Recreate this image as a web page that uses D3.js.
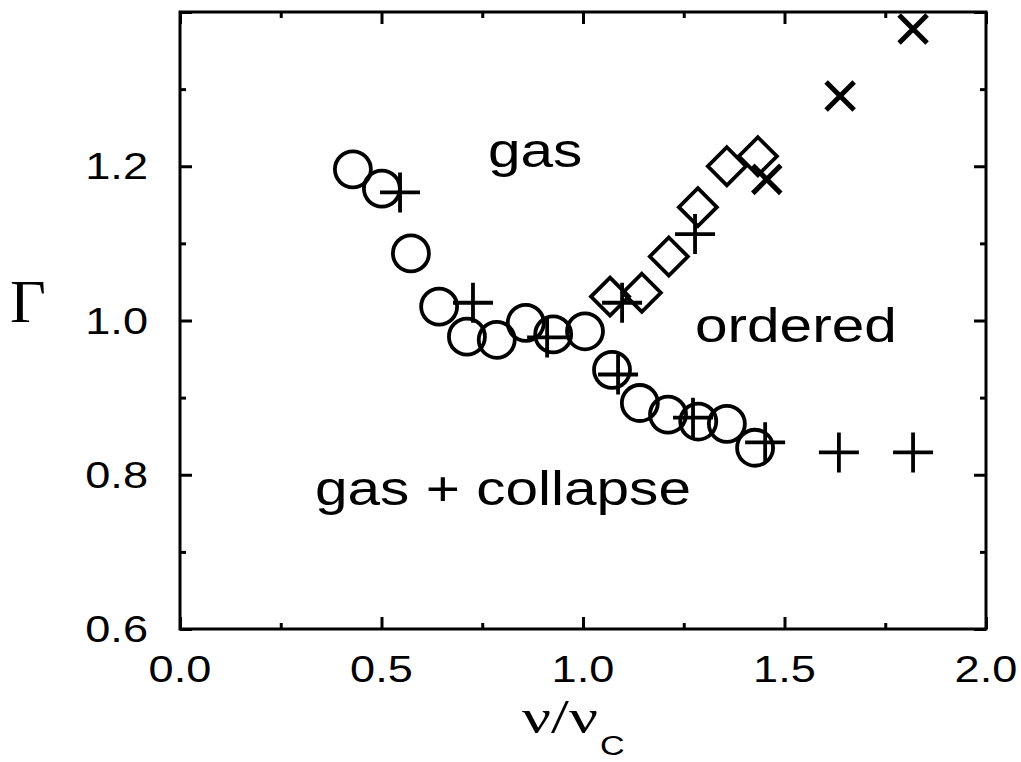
<!DOCTYPE html>
<html><head><meta charset="utf-8">
<script src="https://cdn.jsdelivr.net/npm/d3@7"></script>
<style>body{margin:0;background:#fff}svg{display:block}</style>
</head><body>
<svg id="c" width="1021" height="762"></svg>
<script>
// ---- data ----
const circleX = [0.429,0.501,0.573,0.643,0.712,0.786,0.858,0.926,1.005,1.072,1.141,1.211,1.286,1.357,1.427];
const circleY = [1.196,1.171,1.087,1.018,0.979,0.975,0.997,0.982,0.986,0.936,0.893,0.878,0.869,0.866,0.835];
const plusX = [0.546,0.727,0.911,1.097,1.087,1.278,1.273,1.452,1.635,1.819];
const plusY = [1.166,1.023,0.978,1.023,0.930,1.112,0.874,0.842,0.829,0.829];
const diamondX = [1.067,1.146,1.213,1.285,1.357,1.434];
const diamondY = [1.031,1.036,1.083,1.147,1.200,1.213];
const crossX = [1.456,1.638,1.819];
const crossY = [1.183,1.291,1.378];
const xTickLabels = ["0.0","0.5","1.0","1.5","2.0"];
const yTickLabels = ["0.6","0.8","1.0","1.2"];
const regionLabels = ["gas","ordered","gas + collapse"];

// ---- layout ----
const svg = d3.select("#c");
const L=180, R=986, T=12, B=629;
const x = d3.scaleLinear().domain([0,2]).range([L,R]);
const y = d3.scaleLinear().domain([0.6,1.4]).range([B,T]);
const SX = 1.22; // horizontal stretch of text

function ticks(axisFn, vals, size, tr){
  const g = svg.append("g").attr("transform",tr)
    .call(axisFn.tickValues(vals).tickSize(size).tickFormat(""));
  g.select(".domain").remove();
  g.selectAll(".tick line").attr("stroke","#000").attr("stroke-width",3);
}
const majX=[0,0.5,1,1.5,2], minX=[0.25,0.75,1.25,1.75];
const majY=[0.6,0.8,1.0,1.2,1.4], minY=[0.7,0.9,1.1,1.3];
ticks(d3.axisBottom(x), majX, -12, `translate(0,${B})`);
ticks(d3.axisBottom(x), minX, -6, `translate(0,${B})`);
ticks(d3.axisTop(x), majX, -12, `translate(0,${T})`);
ticks(d3.axisTop(x), minX, -6, `translate(0,${T})`);
ticks(d3.axisLeft(y), majY, -12, `translate(${L},0)`);
ticks(d3.axisLeft(y), minY, -6, `translate(${L},0)`);
ticks(d3.axisRight(y), majY, -12, `translate(${R},0)`);
ticks(d3.axisRight(y), minY, -6, `translate(${R},0)`);
svg.append("rect").attr("x",L).attr("y",T).attr("width",R-L).attr("height",B-T)
  .attr("fill","none").attr("stroke","#000").attr("stroke-width",3);

function stext(px,py,str,size,anchor,family){
  const g = svg.append("g").attr("transform",`translate(${px},${py}) scale(${SX},1)`);
  return g.append("text").text(str).attr("font-size",size)
    .attr("font-family",family||"'Liberation Sans', Arial, sans-serif")
    .attr("text-anchor",anchor||"start").attr("fill","#000");
}
xTickLabels.forEach(t=>stext(x(+t),682,t,37,"middle"));
yTickLabels.forEach(t=>stext(148,y(+t)+13,t,37,"end"));

// axis titles
svg.append("text").attr("x",10).attr("y",322).text("Γ")
  .attr("font-family","'Liberation Serif','Times New Roman',serif").attr("font-size",62);
svg.append("text").attr("x",522).attr("y",733).text("ν/ν")
  .attr("font-family","'Liberation Serif','Times New Roman',serif").attr("font-size",48)
  .attr("textLength",76).attr("lengthAdjust","spacingAndGlyphs");
stext(600,755,"C",28,"start");

// region labels
stext(488,167,regionLabels[0],48,"start");
stext(695,342,regionLabels[1],48,"start");
stext(315,505,regionLabels[2],48,"start");

// ---- markers ----
const mk = svg.append("g").attr("fill","none").attr("stroke","#000").attr("stroke-width",3.8);
const circles = circleX.map((v,i)=>({x:v,y:circleY[i]}));
const pluses = plusX.map((v,i)=>({x:v,y:plusY[i]}));
const diamonds = diamondX.map((v,i)=>({x:v,y:diamondY[i]}));
const crosses = crossX.map((v,i)=>({x:v,y:crossY[i]}));

mk.selectAll("circle").data(circles).join("circle")
  .attr("cx",d=>x(d.x)).attr("cy",d=>y(d.y)).attr("r",18);
const pr=20, dr=19, cr=14;
mk.selectAll("path.p").data(pluses).join("path").attr("class","p")
  .attr("transform",d=>`translate(${x(d.x)},${y(d.y)})`)
  .attr("d",`M${-pr},0H${pr}M0,${-pr}V${pr}`);
mk.selectAll("path.d").data(diamonds).join("path").attr("class","d")
  .attr("transform",d=>`translate(${x(d.x)},${y(d.y)})`)
  .attr("d",`M0,${-dr}L${dr},0L0,${dr}L${-dr},0Z`);
mk.selectAll("path.x").data(crosses).join("path").attr("class","x")
  .attr("stroke-width",5)
  .attr("transform",d=>`translate(${x(d.x)},${y(d.y)})`)
  .attr("d",`M${-cr},${-cr}L${cr},${cr}M${-cr},${cr}L${cr},${-cr}`);
</script>
</body></html>
